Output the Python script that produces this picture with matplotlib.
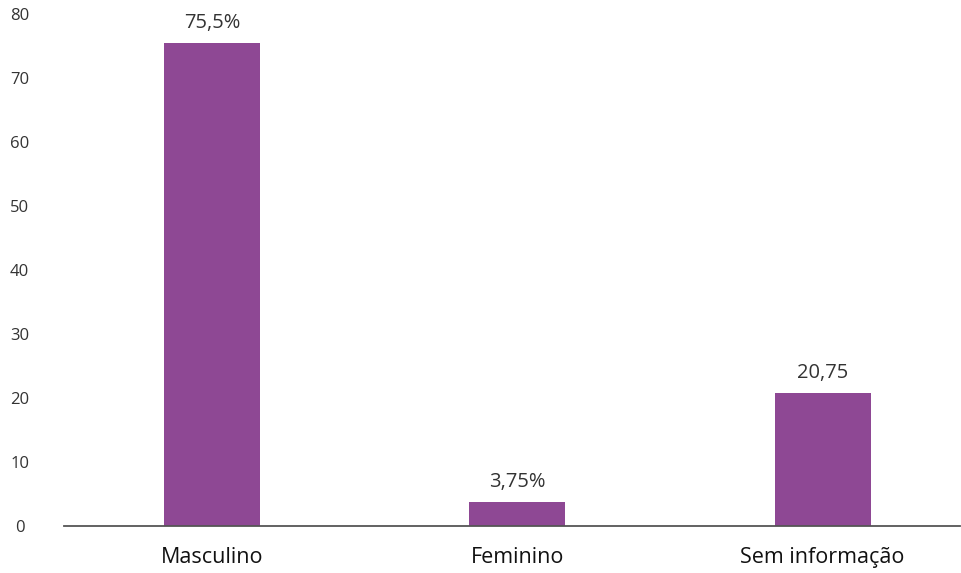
import matplotlib
matplotlib.use("Agg")
import matplotlib.pyplot as plt

categories = ["Masculino", "Feminino", "Sem informação"]
values = [75.5, 3.75, 20.75]
value_labels = ["75,5%", "3,75%", "20,75"]
yticks = [0, 10, 20, 30, 40, 50, 60, 70, 80]

plt.rcParams["font.family"] = ["Open Sans", "DejaVu Sans"]

fig = plt.figure(figsize=(9.62, 5.73), dpi=100)
ax = fig.add_axes([64 / 962, 47 / 573, 896 / 962, 512 / 573])

bar_color = "#8e4894"
text_color = "#333333"

x = list(range(len(categories)))
ax.bar(x, values, width=0.315, color=bar_color, zorder=2)

for xi, v, lab in zip(x, values, value_labels):
    ax.annotate(lab, (xi, v), xytext=(0, 7), textcoords="offset points",
                ha="center", va="bottom", fontsize=14.5, color=text_color)

ax.set_xlim(-0.485, 2.45)
ax.set_ylim(0, 80)
ax.set_xticks(x)
ax.set_xticklabels(categories, fontsize=15.5, color="#111111")
ax.set_yticks(yticks)
ax.set_yticklabels([str(t) for t in yticks], fontsize=12, color=text_color,
                   ha="center")
ax.tick_params(axis="x", length=0, pad=15)
ax.tick_params(axis="y", length=0, pad=32)

for side in ["top", "right", "left"]:
    ax.spines[side].set_visible(False)
ax.spines["bottom"].set_color("#555555")
ax.spines["bottom"].set_linewidth(1.3)

fig.savefig("out.png", dpi=100)
